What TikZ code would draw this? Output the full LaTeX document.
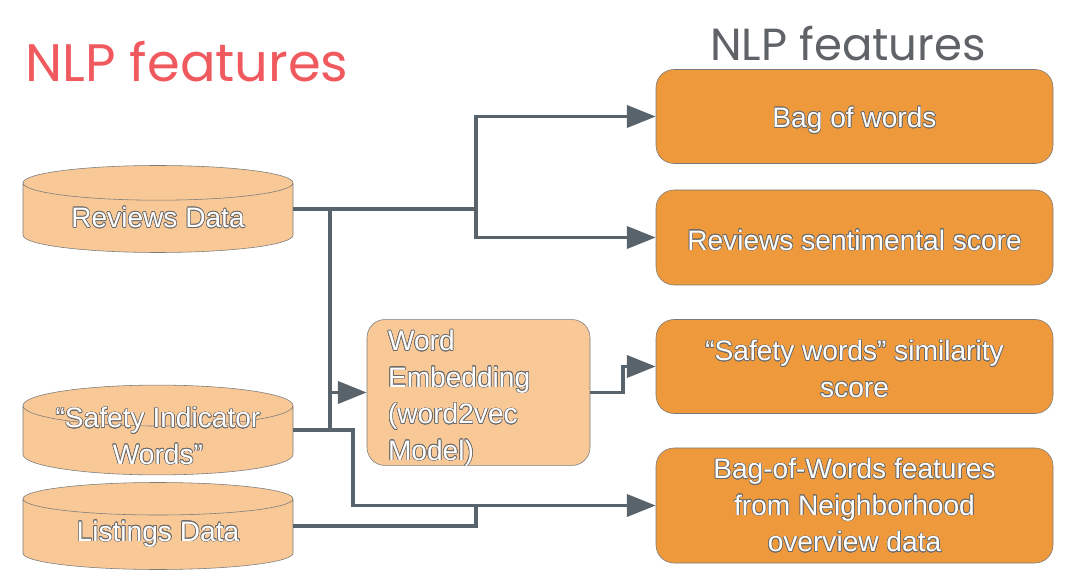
\documentclass[tikz,border=0pt]{standalone}
\usepackage{fontspec}
\setmainfont{Liberation Sans}
\newfontfamily\headfont{Poppins}
\usepackage{xcolor}
\usepackage[copies]{contour}
\usetikzlibrary{arrows.meta, positioning, shapes.geometric, calc}

\definecolor{peach}{HTML}{F8C897}
\definecolor{featorange}{HTML}{EE9A3C}
\definecolor{edgegray}{HTML}{7A7A7A}
\definecolor{wiregray}{HTML}{59636C}
\definecolor{titlered}{HTML}{F05A5F}
\definecolor{titlegray}{HTML}{5F6368}
\definecolor{txtline}{HTML}{6A6A6A}

\contourlength{0.45pt}
% white outlined text, optionally lowered
\newcommand{\wt}[2][0pt]{\raisebox{-#1}[\height][\depth]{\contour{txtline}{#2}}}
% two lines that overflow the drum, as the slide does
\newcommand{\wtbox}[1]{\raisebox{0pt}[14pt][6pt]{\contour{txtline}{\begin{tabular}{@{}c@{}}#1\end{tabular}}}}

\begin{document}
\begin{tikzpicture}[
    x=0.025cm, y=0.025cm,
    dbase/.style={draw=edgegray, fill=peach, cylinder, shape border rotate=90, aspect=0.2, minimum width=270*0.025cm, minimum height=87*0.025cm, text=white, font=\fontsize{20}{26}\selectfont, align=center, inner sep=0pt, anchor=shape center},
    model/.style={draw=edgegray, fill=peach, rectangle, rounded corners=0.45cm, minimum width=223*0.025cm, minimum height=145*0.025cm, text width=181*0.025cm, align=left, text=white, font=\fontsize{20}{26}\selectfont},
    feature/.style={draw=edgegray, fill=featorange, rectangle, rounded corners=0.45cm, minimum width=397*0.025cm, minimum height=94*0.025cm, align=center, text=white, font=\fontsize{20}{26}\selectfont},
    wire/.style={draw=wiregray, line width=2.8pt},
    line/.style={wire, -{Triangle[length=20.5pt, width=15.6pt]}}
]
    \useasboundingbox (0,0) rectangle (1076,585);

    % titles
    \node[titlered, font=\headfont\fontsize{37.5}{40}\selectfont] (ttl) at (187,523) {NLP features};
    \node[titlegray, font=\headfont\fontsize{32}{34}\selectfont] (sub) at (848,541) {NLP features};

    % data sources
    \node[dbase] (rev) at (158,376) {\wt{Reviews Data}};
    \node[dbase] (saf) at (158,155) {\wtbox{“Safety Indicator\\Words”}};
    \node[dbase] (lst) at (158,59) {\wt{Listings Data}};

    % embedding model
    \node[model] (emb) at (478.5,192.5) {\wt[0.15cm]{Word}\\\wt[0.15cm]{Embedding}\\\wt[0.15cm]{(word2vec}\\\wt[0.15cm]{Model)}};

    % output features
    \node[feature] (bow) at (854.5,468.5) {\wt[0.1cm]{Bag of words}};
    \node[feature, minimum height=95*0.025cm] (senti) at (854.5,347.5) {\wt[0.07cm]{Reviews sentimental score}};
    \node[feature] (sim) at (854.5,218.5) {\wt[0.07cm]{“Safety words” similarity}\\\wt[0.07cm]{score}};
    \node[feature, minimum height=115*0.025cm] (nbr) at (854.5,79.5) {\wt{Bag-of-Words features}\\\wt{from Neighborhood}\\\wt{overview data}};

    \coordinate (j1) at (476,376);
    \coordinate (j2) at (330,376);

    \draw[wire] (rev.shape center -| rev.east) -- (j1);
    \draw[line] (j1) |- (bow.west);
    \draw[line] (j1) |- (senti.west);
    \draw[wire] (j2) |- (saf.shape center -| saf.east);
    \draw[line] (emb.west -| j2) -- (emb.west);
    \draw[line] (saf.shape center -| saf.east) -- ++(60,0) |- (nbr.west);
    \draw[wire] (lst.shape center -| lst.east) -| (nbr.west -| j1);
    \draw[line] (emb.east) -- ++(33,0) |- (sim.west);
\end{tikzpicture}
\end{document}
